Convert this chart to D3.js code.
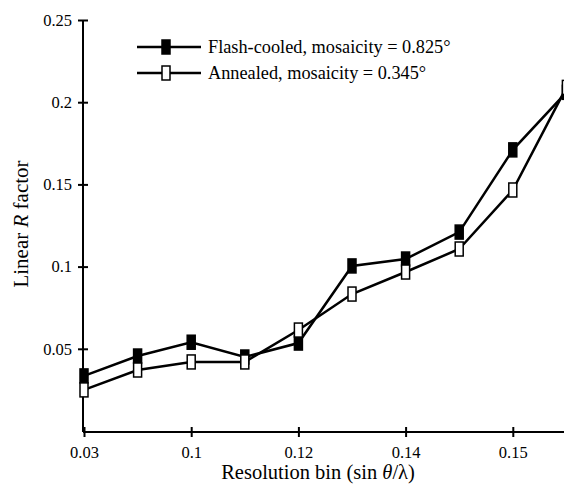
<!DOCTYPE html>
<html>
<head>
<meta charset="utf-8">
<script src="https://cdn.jsdelivr.net/npm/d3@7"></script>
<style>
  body { margin: 0; background: #fff; }
  svg { display: block; }
</style>
</head>
<body>
<div id="chart"></div>
<script>
// bins along the x axis (only every other one is labelled)
const bins = [1, 2, 3, 4, 5, 6, 7, 8, 9, 10];
const tickBins = [1, 3, 5, 7, 9];
const tickLabels = ["0.03", "0.1", "0.12", "0.14", "0.15"];
const yTicks = [0.05, 0.1, 0.15, 0.2, 0.25];

// linear R factor per bin
const flashCooled = [0.0335, 0.0456, 0.054, 0.045, 0.0535, 0.1004, 0.1046, 0.121, 0.171, 0.206];
const annealed = [0.025, 0.0371, 0.042, 0.042, 0.0614, 0.0833, 0.0967, 0.1107, 0.1466, 0.209];

const seriesNames = ["Flash-cooled, mosaicity = 0.825°", "Annealed, mosaicity = 0.345°"];

const width = 564;
const height = 484;
const font = "'Liberation Serif', 'Times New Roman', serif";

const x = d3.scalePoint(bins, [84, 566.4]);
const y = d3.scaleLinear([0, 0.25], [431, 20]);

const svg = d3.select("#chart")
    .append("svg")
    .attr("width", width)
    .attr("height", height)
    .attr("viewBox", [0, 0, width, height]);

// y axis
const gy = svg.append("g")
    .attr("transform", "translate(83,0)")
    .call(d3.axisLeft(y).tickValues(yTicks).tickSize(5).tickSizeOuter(0).tickPadding(6)
        .tickFormat(d => String(+d.toFixed(2))));
gy.select(".domain").attr("d", `M0,${y(0) + 1}V${y(0.25)}`).attr("stroke-width", 2);
gy.selectAll(".tick line").attr("x1", 5).attr("stroke-width", 2);

// x axis
const gx = svg.append("g")
    .attr("transform", "translate(0,432)")
    .call(d3.axisBottom(x).tickValues(tickBins).tickSize(5).tickSizeOuter(0).tickPadding(9)
        .tickFormat(d => tickLabels[tickBins.indexOf(d)]));
gx.select(".domain").attr("d", `M83,0H${width}`).attr("stroke-width", 2);
gx.selectAll(".tick line").attr("y1", -5).attr("stroke-width", 2);

svg.selectAll(".tick text")
    .attr("font-family", font)
    .attr("font-size", 16.5)
    .attr("fill", "#000");

// axis titles
const yTitle = svg.append("text")
    .attr("transform", "translate(28,224) rotate(-90)")
    .attr("text-anchor", "middle")
    .attr("font-family", font)
    .attr("font-size", 21)
    .attr("fill", "#000");
yTitle.append("tspan").text("Linear ");
yTitle.append("tspan").attr("font-style", "italic").text("R");
yTitle.append("tspan").text(" factor");

const xTitle = svg.append("text")
    .attr("x", 318)
    .attr("y", 479)
    .attr("text-anchor", "middle")
    .attr("font-family", font)
    .attr("font-size", 20.5)
    .attr("fill", "#000");
xTitle.append("tspan").text("Resolution bin (sin ");
xTitle.append("tspan").attr("font-style", "italic").text("θ");
xTitle.append("tspan").text("/λ)");

// series
const line = d3.line()
    .x((d, i) => x(bins[i]))
    .y(d => y(d));

const series = [
    { name: seriesNames[0], values: flashCooled, fill: "#000" },
    { name: seriesNames[1], values: annealed, fill: "#fff" }
];

const mw = 8, mh = 14;

series.forEach(s => {
    svg.append("path")
        .attr("d", line(s.values))
        .attr("fill", "none")
        .attr("stroke", "#000")
        .attr("stroke-width", 2.5);
});

series.forEach(s => {
    svg.append("g")
        .selectAll("rect")
        .data(s.values)
        .join("rect")
        .attr("x", (d, i) => x(bins[i]) - mw / 2)
        .attr("y", d => y(d) - mh / 2)
        .attr("width", mw)
        .attr("height", mh)
        .attr("fill", s.fill)
        .attr("stroke", "#000")
        .attr("stroke-width", 1.5);
});

// legend
const legend = svg.append("g");
series.forEach((s, i) => {
    const ly = 47 + i * 26;
    legend.append("line")
        .attr("x1", 137).attr("x2", 201)
        .attr("y1", ly).attr("y2", ly)
        .attr("stroke", "#000")
        .attr("stroke-width", 2.5);
    legend.append("rect")
        .attr("x", 166 - mw / 2).attr("y", ly - mh / 2)
        .attr("width", mw).attr("height", mh)
        .attr("fill", s.fill)
        .attr("stroke", "#000")
        .attr("stroke-width", 1.5);
    legend.append("text")
        .attr("x", 208).attr("y", ly + 6)
        .attr("font-family", font)
        .attr("font-size", 18.3)
        .attr("fill", "#000")
        .text(s.name);
});
</script>
</body>
</html>
